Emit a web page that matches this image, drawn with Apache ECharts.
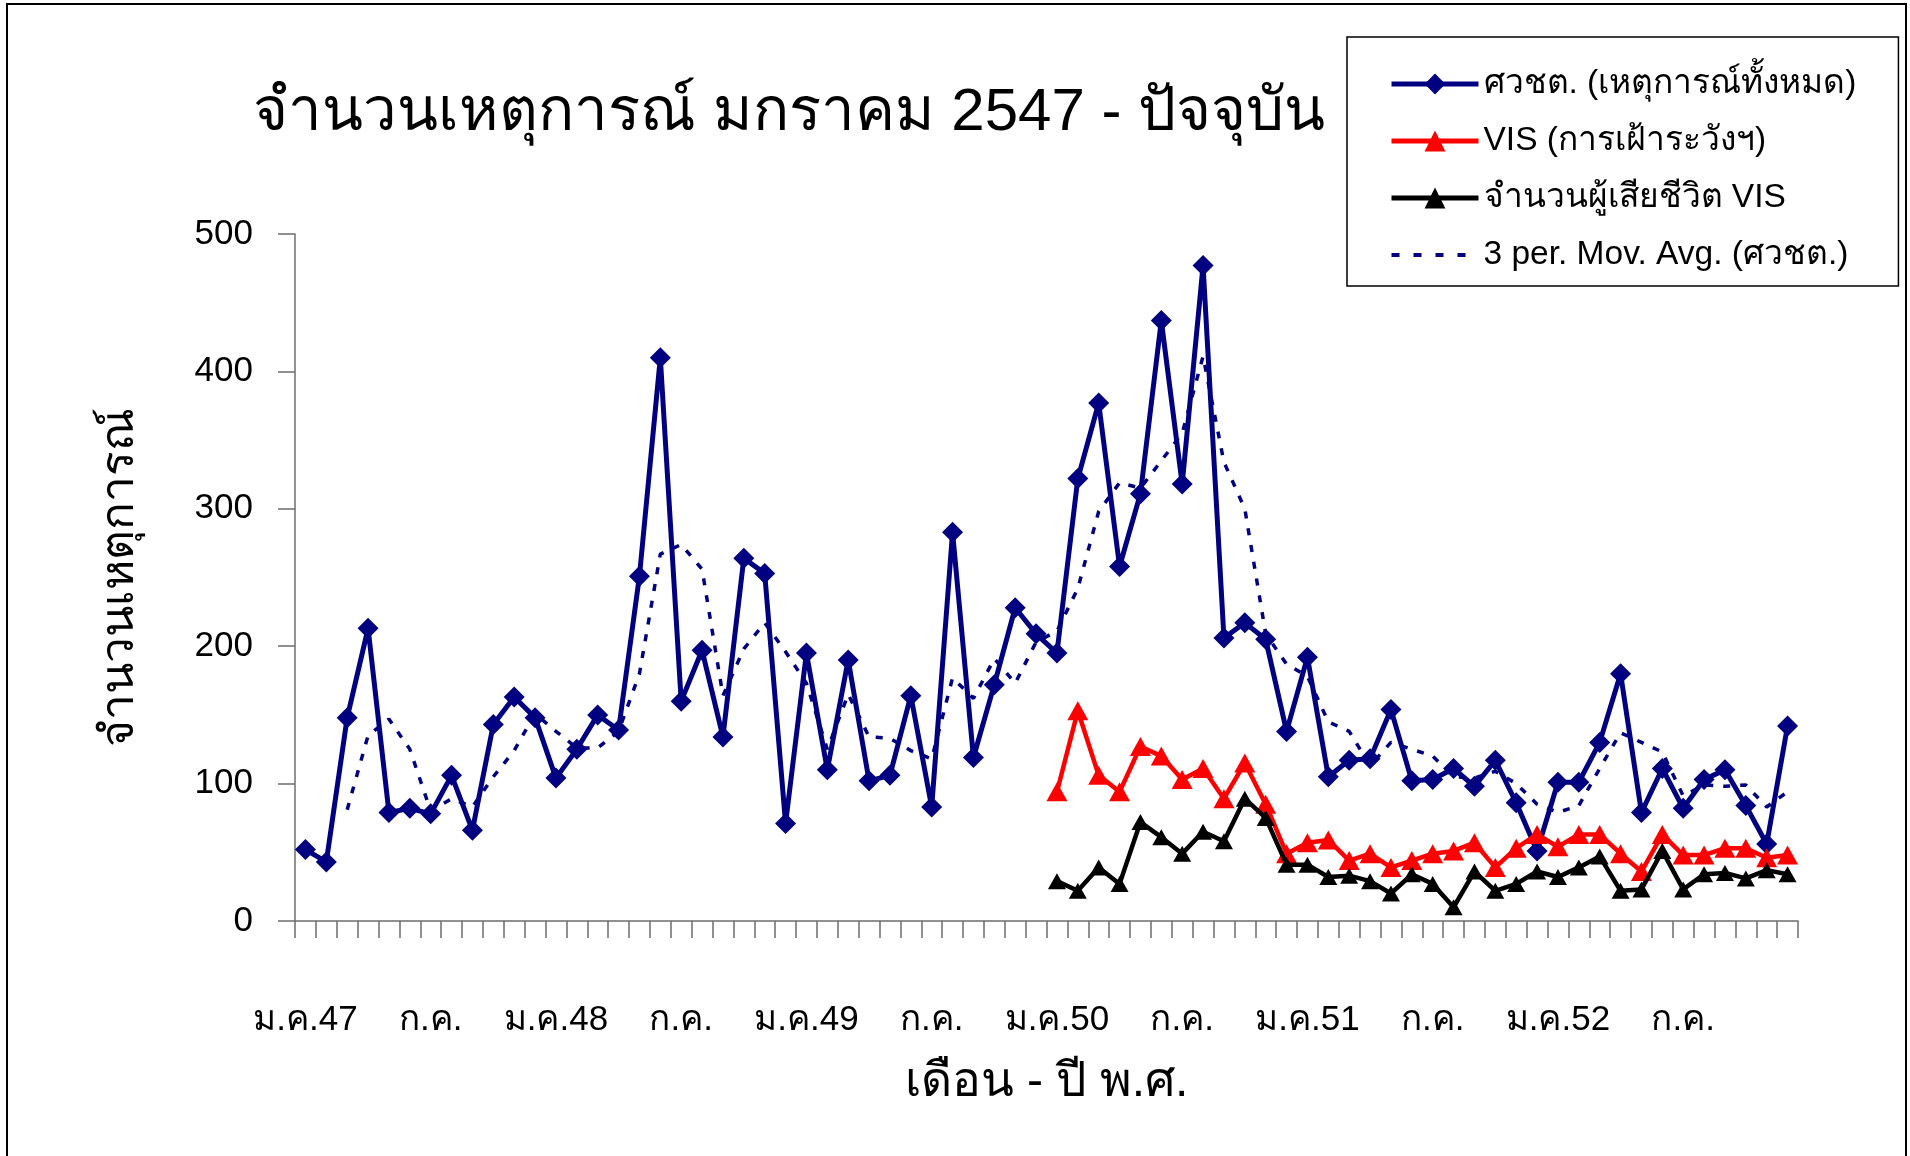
<!DOCTYPE html>
<html>
<head>
<meta charset="utf-8">
<script src="https://cdn.jsdelivr.net/npm/echarts@6/dist/echarts.min.js"></script>
<style>
  html, body { margin: 0; padding: 0; background: #fff; }
  #myCharts { width: 1910px; height: 1156px; }
</style>
</head>
<body>
<div id="myCharts"></div>
<script>
// เดือน - ปี (ม.ค.47 ... ธ.ค.52)
const monthNames = ['ม.ค.', 'ก.พ.', 'มี.ค.', 'เม.ย.', 'พ.ค.', 'มิ.ย.', 'ก.ค.', 'ส.ค.', 'ก.ย.', 'ต.ค.', 'พ.ย.', 'ธ.ค.'];
const yearNames = ['47', '48', '49', '50', '51', '52'];
const categories = [];
yearNames.forEach(y => monthNames.forEach(m => categories.push(m + y)));

// ศวชต. (เหตุการณ์ทั้งหมด)
const totalEvents = [
  52, 43, 148, 213, 79, 82, 78, 106, 66, 143, 163, 148,
  104, 125, 150, 139, 251, 410, 160, 197, 134, 264, 253, 71,
  195, 110, 190, 102, 106, 164, 83, 283, 119, 172, 228, 209,
  195, 322, 377, 258, 311, 437, 318, 477, 206, 217, 205, 138,
  192, 105, 117, 118, 154, 102, 103, 111, 98, 117, 86, 51,
  101, 101, 130, 180, 79, 111, 82, 103, 110, 84, 56, 142
];
// VIS (การเฝ้าระวังฯ) - เริ่ม ม.ค.50
const visEvents = [
  '-', '-', '-', '-', '-', '-', '-', '-', '-', '-', '-', '-',
  '-', '-', '-', '-', '-', '-', '-', '-', '-', '-', '-', '-',
  '-', '-', '-', '-', '-', '-', '-', '-', '-', '-', '-', '-',
  94, 153, 106, 94, 127, 120, 103, 111, 89, 115, 85, 49,
  57, 59, 44, 49, 39, 44, 49, 51, 57, 39, 53, 63,
  54, 63, 63, 49, 36, 63, 48, 48, 53, 53, 46, 48
];
// จำนวนผู้เสียชีวิต VIS
const visDeaths = [
  '-', '-', '-', '-', '-', '-', '-', '-', '-', '-', '-', '-',
  '-', '-', '-', '-', '-', '-', '-', '-', '-', '-', '-', '-',
  '-', '-', '-', '-', '-', '-', '-', '-', '-', '-', '-', '-',
  29, 22, 39, 27, 72, 61, 49, 65, 58, 89, 75, 41,
  41, 32, 33, 29, 20, 34, 27, 10, 36, 22, 27, 36,
  32, 39, 47, 22, 23, 51, 23, 34, 35, 31, 37, 34
];
// 3 per. Mov. Avg. (ศวชต.)
const movAvg3 = [
  '-', '-', 81, 135, 147, 125, 80, 89, 83, 105, 124, 151,
  138, 126, 126, 138, 180, 267, 274, 256, 164, 198, 217, 196,
  173, 125, 165, 134, 133, 124, 118, 177, 162, 191, 173, 203,
  211, 242, 298, 319, 315, 335, 355, 411, 334, 300, 209, 187,
  178, 145, 138, 113, 130, 125, 120, 105, 104, 109, 100, 85,
  79, 84, 111, 137, 130, 123, 91, 99, 98, 99, 83, 94
];
const yMin = 0, yMax = 500, yStep = 100;

const fontFam = "'Liberation Sans', Arial, sans-serif";
const axisGray = '#6e6e6e';

const myCharts = echarts.init(document.getElementById('myCharts'));
let options = {
  backgroundColor: '#fff',
  animation: false,
  textStyle: { fontFamily: fontFam, color: '#000' },
  title: {
    text: 'จำนวนเหตุการณ์ มกราคม 2547 - ปัจจุบัน',
    left: 789,
    top: 83,
    textAlign: 'center',
    padding: 0,
    textStyle: { fontSize: 60, fontWeight: 'normal', color: '#000', fontFamily: fontFam }
  },
  legend: {
    orient: 'vertical',
    left: 1347,
    top: 37,
    padding: [30, 42, 14, 42],
    itemGap: 23,
    itemWidth: 87,
    itemHeight: 26,
    borderColor: '#000',
    borderWidth: 1.5,
    textStyle: { fontSize: 33.5, color: '#000', fontFamily: fontFam },
    data: [
      { name: 'ศวชต. (เหตุการณ์ทั้งหมด)', lineStyle: { width: 5 } },
      { name: 'VIS (การเฝ้าระวังฯ)', lineStyle: { width: 5 } },
      { name: 'จำนวนผู้เสียชีวิต VIS', lineStyle: { width: 5 } },
      { name: '3 per. Mov. Avg. (ศวชต.)', itemStyle: { opacity: 0 }, lineStyle: { width: 4, type: [8, 14] } }
    ]
  },
  graphic: [{
    type: 'rect',
    silent: true,
    shape: { x: 7, y: 4, width: 1899, height: 1170 },
    style: { fill: 'none', stroke: '#000', lineWidth: 2 }
  }],
  grid: { left: 295, right: 112, top: 234, bottom: 235 },
  xAxis: {
    type: 'category',
    data: categories,
    boundaryGap: true,
    name: 'เดือน - ปี พ.ศ.',
    nameLocation: 'middle',
    nameGap: 138,
    nameTextStyle: { fontSize: 48, color: '#000', fontFamily: fontFam },
    axisLine: { show: true, lineStyle: { color: axisGray, width: 1.5 } },
    axisTick: { show: true, interval: 0, length: 17, lineStyle: { color: axisGray, width: 1.5 } },
    axisLabel: {
      interval: 0,
      margin: 82,
      fontSize: 35,
      color: '#000',
      fontFamily: fontFam,
      formatter: function (v, i) {
        if (i % 12 === 0) return v;
        if (i % 12 === 6) return monthNames[6];
        return '';
      }
    },
    splitLine: { show: false }
  },
  yAxis: {
    type: 'value',
    min: yMin,
    max: yMax,
    interval: yStep,
    name: 'จำนวนเหตุการณ์',
    nameLocation: 'middle',
    nameRotate: 90,
    nameGap: 152,
    nameTextStyle: { fontSize: 46, color: '#000', fontFamily: fontFam },
    axisLine: { show: true, lineStyle: { color: axisGray, width: 1.5 } },
    axisTick: { show: true, length: 17, lineStyle: { color: axisGray, width: 1.5 } },
    axisLabel: { margin: 42, fontSize: 35, color: '#000', fontFamily: fontFam },
    splitLine: { show: false }
  },
  series: [
    {
      name: 'ศวชต. (เหตุการณ์ทั้งหมด)',
      type: 'line',
      data: totalEvents,
      symbol: 'diamond',
      symbolSize: 21,
      z: 3,
      lineStyle: { color: '#000080', width: 5 },
      itemStyle: { color: '#000080' }
    },
    {
      name: 'VIS (การเฝ้าระวังฯ)',
      type: 'line',
      data: visEvents,
      symbol: 'triangle',
      symbolSize: [21, 19],
      z: 4,
      lineStyle: { color: '#ff0000', width: 4.5 },
      itemStyle: { color: '#ff0000' }
    },
    {
      name: 'จำนวนผู้เสียชีวิต VIS',
      type: 'line',
      data: visDeaths,
      symbol: 'triangle',
      symbolSize: [18, 16],
      z: 5,
      lineStyle: { color: '#000000', width: 4.5 },
      itemStyle: { color: '#000000' }
    },
    {
      name: '3 per. Mov. Avg. (ศวชต.)',
      type: 'line',
      data: movAvg3,
      symbol: 'none',
      z: 2,
      lineStyle: { color: '#000080', width: 3.5, type: [7, 10] },
      itemStyle: { color: '#000080' }
    }
  ]
};
myCharts.setOption(options);
</script>
</body>
</html>
